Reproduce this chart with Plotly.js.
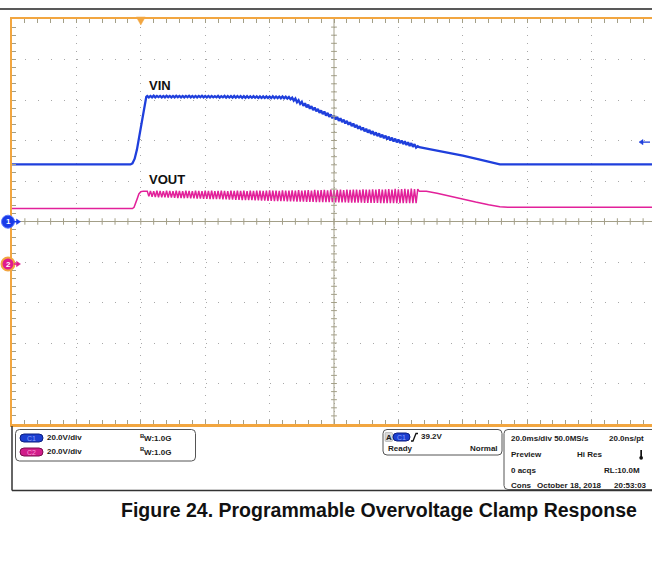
<!DOCTYPE html>
<html><head><meta charset="utf-8">
<script src="https://cdn.plot.ly/plotly-3.0.1.min.js"></script>
<style>html,body{margin:0;padding:0;background:#fff;overflow:hidden}#chart{width:652px;height:569px}</style>
</head><body><div id="chart"></div>
<script>
// ---------- DATA (time in ms, trigger at 0; volts) ----------
const vinTimePre = [-40, -3.2, -2.6, -1.9, -1.2, -0.4, 0.4, 1.2, 1.7];
const vinPre     = [28.2, 28.2, 28.7, 31.0, 35.5, 42.8, 50.1, 57.4, 61.6];
const voutTimePre = [-40, -2.6, -2.1, -1.6, -1.1, -0.6, 0.0, 0.8, 1.5];
const voutPre     = [27.4, 27.4, 28.0, 29.8, 32.3, 34.6, 35.7, 36.0, 35.9];

const rippleTime = [
 2,2.5,3,3.5,4,4.5,5,5.5,6,6.5, 7,7.5,8,8.5,9,9.5,10,10.5,11,11.5,
 12,12.5,13,13.5,14,14.5,15,15.5,16,16.5, 17,17.5,18,18.5,19,19.5,20,20.5,21,21.5,
 22,22.5,23,23.5,24,24.5,25,25.5,26,26.5, 27,27.5,28,28.5,29,29.5,30,30.5,31,31.5,
 32,32.5,33,33.5,34,34.5,35,35.5,36,36.5, 37,37.5,38,38.5,39,39.5,40,40.5,41,41.5,
 42,42.5,43,43.5,44,44.5,45,45.5,46,46.5, 47,47.5,48,48.5,49,49.5,50,50.5,51,51.5,
 52,52.5,53,53.5,54,54.5,55,55.5,56,56.5, 57,57.5,58,58.5,59,59.5,60,60.5,61,61.5,
 62,62.5,63,63.5,64,64.5,65,65.5,66,66.5, 67,67.5,68,68.5,69,69.5,70,70.5,71,71.5,
 72,72.5,73,73.5,74,74.5,75,75.5,76,76.5, 77,77.5,78,78.5,79,79.5,80,80.5,81,81.5,
 82,82.5,83,83.5,84,84.5,85,85.5,86];
const vinRipple = [
 62.0,61.3,62.0,61.3,62.1,61.3,62.0,61.4,62.0,61.3, 62.0,61.3,62.1,61.4,62.0,61.3,62.0,61.3,62.1,61.4,
 62.0,61.3,62.0,61.3,62.0,61.4,62.1,61.3,62.0,61.3, 62.0,61.3,62.0,61.4,62.1,61.3,62.0,61.3,62.0,61.3,
 62.0,61.3,61.9,61.3,62.0,61.2,61.9,61.3,62.0,61.2, 61.9,61.2,61.9,61.2,62.0,61.2,61.9,61.2,61.9,61.1,
 61.9,61.1,61.9,61.1,61.8,61.1,61.9,61.1,61.8,61.0, 61.8,61.0,61.8,61.0,61.8,61.0,61.7,60.9,61.8,60.9,
 61.7,60.9,61.7,60.8,61.7,60.8,61.6,60.7,61.5,60.4, 61.2,59.7,60.7,58.9,59.9,58.1,59.1,57.1,58.4,56.4,
 57.7,55.7,57.0,55.0,56.3,54.4,55.6,53.7,54.9,53.0, 54.3,52.3,53.6,51.7,52.9,51.0,52.3,50.4,51.6,49.7,
 51.0,49.1,50.3,48.4,49.7,47.8,49.0,47.1,48.4,46.5, 47.7,45.8,47.1,45.2,46.4,44.5,45.8,43.9,45.2,43.3,
 44.6,42.7,44.0,42.2,43.5,41.6,42.9,41.1,42.4,40.5, 41.9,40.0,41.4,39.5,40.9,39.1,40.5,38.7,40.0,38.2,
 39.6,37.8,39.1,37.3,38.7,36.9,38.2,36.5,37.2];
const voutRipple = [
 36.0,33.4,36.1,33.2,36.0,33.1,36.2,33.0,36.1,33.0, 36.0,32.9,36.2,32.8,36.1,32.8,36.0,32.7,36.2,32.6,
 36.1,32.6,36.0,32.5,36.2,32.5,36.1,32.4,36.0,32.4, 36.2,32.3,36.1,32.3,36.0,32.2,36.2,32.2,36.1,32.1,
 36.2,32.1,36.0,32.0,36.1,32.0,36.2,31.9,36.1,31.9, 36.0,31.8,36.2,31.8,36.1,31.7,36.3,31.7,36.1,31.6,
 36.2,31.6,36.0,31.5,36.3,31.5,36.1,31.4,36.2,31.4, 36.3,31.3,36.1,31.3,36.2,31.2,36.4,31.2,36.2,31.1,
 36.3,31.1,36.1,31.0,36.4,31.0,36.2,30.9,36.3,30.9, 36.4,30.9,36.2,30.8,36.5,30.8,36.3,30.8,36.4,30.7,
 36.5,30.7,36.3,30.7,36.6,30.6,36.4,30.6,36.5,30.6, 36.6,30.5,36.4,30.5,36.7,30.5,36.5,30.4,36.6,30.4,
 36.7,30.4,36.5,30.4,36.8,30.3,36.6,30.3,36.7,30.3, 36.8,30.3,36.6,30.3,36.9,30.2,36.7,30.2,36.8,30.2,
 36.9,30.2,36.7,30.2,37.0,30.1,36.8,30.1,36.9,30.1, 37.0,30.1,36.8,30.1,37.1,30.0,36.9,30.0,37.0,30.0,
 37.1,30.0,36.9,30.0,37.2,30.0,37.0,30.0,37.0];

const vinTimePost  = [86.5, 90, 95, 100, 105, 110, 111.5, 158.75];
const vinPost      = [36.7, 35.6, 34.2, 32.5, 30.7, 28.8, 28.2, 28.2];
const voutTimePost = [86.5, 88.7, 92, 96, 100, 104, 108, 111.5, 114, 158.75];
const voutPost     = [35.9, 35.9, 35.0, 33.5, 31.9, 30.6, 29.3, 28.3, 28.0, 28.0];

const traceLabels = ['VIN', 'VOUT'];
const triggerLevel = 39.2;      // V on CH1
const voltsPerDiv = 20;
const msPerDiv = 20;
const ch2GroundDiv = -1.05;     // CH2 ground offset in divisions

// ---------- GEOMETRY helpers (decoration only) ----------
const L = 12, T = 19, W = 640, H = 405;
const px = x => (x - L) / W;
const py = y => (T + H - y) / H;
const P = (x, y) => px(x) + ',' + py(y);
function rr(x0, y0, x1, y1, r) {
  return `M${P(x0 + r, y0)} L${P(x1 - r, y0)} Q${P(x1, y0)} ${P(x1, y0 + r)} L${P(x1, y1 - r)} Q${P(x1, y1)} ${P(x1 - r, y1)} L${P(x0 + r, y1)} Q${P(x0, y1)} ${P(x0, y1 - r)} L${P(x0, y0 + r)} Q${P(x0, y0)} ${P(x0 + r, y0)} Z`;
}
const FONT = 'Liberation Sans, Arial, sans-serif';
const BLUE = '#1f3fdc', MAG = '#e2219a', ORANGE = '#f2a640', TICK = '#a39f88';

const traces = [
  { x: [...vinTimePre, ...rippleTime, ...vinTimePost], y: [...vinPre, ...vinRipple, ...vinPost],
    name: traceLabels[0], mode: 'lines', line: { color: BLUE, width: 2.3 }, xaxis: 'x', yaxis: 'y' },
  { x: [...voutTimePre, ...rippleTime, ...voutTimePost], y: [...voutPre, ...voutRipple, ...voutPost],
    name: traceLabels[1], mode: 'lines', line: { color: MAG, width: 1.5 }, xaxis: 'x', yaxis: 'y2' }
];

const xr = [-2 * msPerDiv, -2 * msPerDiv + 640 / 64.4 * msPerDiv], yr = [-5 * voltsPerDiv, 5 * voltsPerDiv];
const y2r = [yr[0] - ch2GroundDiv * voltsPerDiv, yr[1] - ch2GroundDiv * voltsPerDiv];
const xCenter = 3 * msPerDiv;

const baseHidden = { showgrid: false, zeroline: false, showticklabels: false, fixedrange: true };

const shapes = [
  { type: 'line', xref: 'paper', yref: 'paper', x0: px(0), x1: px(652), y0: py(9), y1: py(9), line: { color: '#222', width: 1.5 } },
  { type: 'line', xref: 'x', yref: 'y', x0: xr[0], x1: xr[1], y0: 0, y1: 0, line: { color: TICK, width: 1 } },
  { type: 'line', xref: 'x', yref: 'y', x0: xCenter, x1: xCenter, y0: yr[0], y1: yr[1], line: { color: TICK, width: 1 } },
  { type: 'line', xref: 'paper', yref: 'paper', x0: px(12), x1: px(12), y0: py(426), y1: py(490.5), line: { color: '#333', width: 1.5 } },
  { type: 'line', xref: 'paper', yref: 'paper', x0: px(12), x1: px(652), y0: py(490.5), y1: py(490.5), line: { color: '#333', width: 1.5 } },
  { type: 'path', xref: 'paper', yref: 'paper', path: rr(15.5, 429.5, 195.5, 461, 4), line: { color: '#555', width: 1 } },
  { type: 'path', xref: 'paper', yref: 'paper', path: rr(383, 429.5, 502, 455, 4), line: { color: '#555', width: 1 } },
  { type: 'path', xref: 'paper', yref: 'paper', path: rr(504, 429.5, 664, 489.5, 4), line: { color: '#555', width: 1 } },
  { type: 'path', xref: 'paper', yref: 'paper', path: rr(20, 434, 43, 442, 4), fillcolor: '#1d3fd0', line: { color: '#0c1f80', width: 1 } },
  { type: 'path', xref: 'paper', yref: 'paper', path: rr(20, 448, 43, 456, 4), fillcolor: '#d01d8a', line: { color: '#7a0e4e', width: 1 } },
  { type: 'path', xref: 'paper', yref: 'paper', path: rr(385, 432.5, 392.5, 441.5, 1), fillcolor: '#d8d8d8', line: { color: '#999', width: 0.5 } },
  { type: 'path', xref: 'paper', yref: 'paper', path: rr(393, 433, 410, 441, 4), fillcolor: '#1d3fd0', line: { color: '#0c1f80', width: 1 } },
  { type: 'path', xref: 'paper', yref: 'paper', path: `M${P(411, 441)} L${P(413, 441)} L${P(416, 433.5)} L${P(418, 433.5)}`, line: { color: '#111', width: 1.3 } },
  { type: 'rect', xref: 'paper', yref: 'paper', x0: px(640.3), x1: px(642), y0: py(450), y1: py(457), fillcolor: '#111', line: { width: 0 } },
  { type: 'circle', xref: 'paper', yref: 'paper', x0: px(639.3), x1: px(643), y0: py(456), y1: py(459.7), fillcolor: '#111', line: { width: 0 } },
  { type: 'path', xref: 'x', yref: 'paper', path: `M -1.4,${py(17)} L 1.4,${py(17)} L 0,${py(25)} Z`, fillcolor: ORANGE, line: { color: ORANGE, width: 0.5 } },
  { type: 'circle', xref: 'paper', yref: 'paper', x0: px(1.5), x1: px(14.5), y0: py(215.2), y1: py(228.2), fillcolor: '#1a3be8', line: { color: '#5a78ff', width: 1 } },
  { type: 'line', xref: 'paper', yref: 'paper', x0: px(13), x1: px(17), y0: py(221.7), y1: py(221.7), line: { color: '#1a3be8', width: 1.5 } },
  { type: 'path', xref: 'paper', yref: 'paper', path: `M${P(16.5, 219)} L${P(20.5, 221.7)} L${P(16.5, 224.4)} Z`, fillcolor: '#1a3be8', line: { color: '#1a3be8', width: 0.5 } },
  { type: 'circle', xref: 'paper', yref: 'paper', x0: px(1.5), x1: px(14.5), y0: py(257.5), y1: py(270.5), fillcolor: '#e01b8d', line: { color: ORANGE, width: 2 } },
  { type: 'line', xref: 'paper', yref: 'paper', x0: px(14), x1: px(17), y0: py(264), y1: py(264), line: { color: '#e01b8d', width: 1.5 } },
  { type: 'path', xref: 'paper', yref: 'paper', path: `M${P(16.5, 261.3)} L${P(20.5, 264)} L${P(16.5, 266.7)} Z`, fillcolor: '#e01b8d', line: { color: '#e01b8d', width: 0.5 } },
  { type: 'path', xref: 'paper', yref: 'y', path: `M ${px(643)},${triggerLevel + 1.3} L ${px(639)},${triggerLevel} L ${px(643)},${triggerLevel - 1.3} Z`, fillcolor: BLUE, line: { color: BLUE, width: 0.5 } },
  { type: 'line', xref: 'paper', yref: 'y', x0: px(642), x1: px(650), y0: triggerLevel, y1: triggerLevel, line: { color: BLUE, width: 1.3 } }
];
for (let t = xr[0] + msPerDiv / 5; t < xr[1]; t += msPerDiv / 5) {
  shapes.push({ type: 'line', xref: 'x', yref: 'y', x0: t, x1: t, y0: -1.6, y1: 1.6, line: { color: TICK, width: 1 } });
}
for (let v = yr[0] + voltsPerDiv / 5; v < yr[1]; v += voltsPerDiv / 5) {
  shapes.push({ type: 'line', xref: 'x', yref: 'y', x0: xCenter - 0.9, x1: xCenter + 0.9, y0: v, y1: v, line: { color: TICK, width: 1 } });
}

function txt(x, y, text, size, anchor, color, extra) {
  return Object.assign({ xref: 'paper', yref: 'paper', x: px(x), y: py(y), text: text, showarrow: false,
    xanchor: anchor || 'left', yanchor: 'middle', font: { family: FONT, size: size, color: color || '#1a1a1a' } }, extra || {});
}
const annotations = [
  txt(147, 86, '<b>' + traceLabels[0] + '</b>', 13, 'left', '#111'),
  txt(147, 180, '<b>' + traceLabels[1] + '</b>', 13, 'left', '#111'),
  txt(8, 221.7, '<b>1</b>', 8, 'center', '#fff'),
  txt(8, 264, '<b>2</b>', 8, 'center', '#fff'),
  txt(31.5, 438, 'C1', 7, 'center', '#8aa4ff'),
  txt(31.5, 452, 'C2', 7, 'center', '#ff9ad9'),
  txt(401.5, 437, 'C1', 7, 'center', '#8aa4ff'),
  txt(45, 437.5, '<b>20.0V/div</b>', 8, 'left'),
  txt(45, 451.5, '<b>20.0V/div</b>', 8, 'left'),
  txt(138, 435.5, '<b>B</b>', 6, 'left'),
  txt(141.5, 438.5, '<b>W:1.0G</b>', 8, 'left'),
  txt(138, 449.5, '<b>B</b>', 6, 'left'),
  txt(141.5, 452.5, '<b>W:1.0G</b>', 8, 'left'),
  txt(388.8, 437, '<b>A</b>', 8, 'center'),
  txt(419, 436.5, '<b>39.2V</b>', 8, 'left'),
  txt(386, 448.5, '<b>Ready</b>', 8, 'left'),
  txt(500, 448.5, '<b>Normal</b>', 8, 'right'),
  txt(509, 438.5, '<b>20.0ms/div 50.0MS/s</b>', 8, 'left'),
  txt(646, 438.5, '<b>20.0ns/pt</b>', 8, 'right'),
  txt(509, 454.5, '<b>Preview</b>', 8, 'left'),
  txt(575, 454.5, '<b>Hi Res</b>', 8, 'left'),
  txt(509, 470, '<b>0 acqs</b>', 8, 'left'),
  txt(642, 470, '<b>RL:10.0M</b>', 8, 'right'),
  txt(509, 485.5, '<b>Cons</b>', 8, 'left'),
  txt(535, 485.5, '<b>October 18, 2018</b>', 8, 'left'),
  txt(649, 485.5, '<b>20:53:03</b>', 8, 'right'),
  txt(379, 510, '<b>Figure 24. Programmable Overvoltage Clamp Response</b>', 19.5, 'center', '#111')
];

const layout = {
  width: 652, height: 569, margin: { l: L, r: 652 - L - W, t: T, b: 569 - T - H, pad: 0 },
  paper_bgcolor: '#fff', plot_bgcolor: '#fff', showlegend: false,
  xaxis: Object.assign({}, baseHidden, { range: xr, showgrid: true, dtick: msPerDiv, tick0: xr[0], gridcolor: '#a8a8a8',
    griddash: '1px,7px', gridwidth: 1, ticks: 'inside', ticklen: 4, tickcolor: TICK, tickwidth: 1,
    minor: { dtick: msPerDiv / 5, tick0: xr[0], ticks: 'inside', ticklen: 4, tickcolor: TICK, tickwidth: 1, showgrid: false },
    showline: true, linecolor: ORANGE, linewidth: 2.5, mirror: 'ticks' }),
  yaxis: Object.assign({}, baseHidden, { range: yr, showgrid: true, dtick: voltsPerDiv, tick0: yr[0], gridcolor: '#a8a8a8',
    griddash: '1px,11.9px', gridwidth: 1, ticks: 'inside', ticklen: 4, tickcolor: TICK, tickwidth: 1,
    minor: { dtick: voltsPerDiv / 5, tick0: yr[0], ticks: 'inside', ticklen: 4, tickcolor: TICK, tickwidth: 1, showgrid: false },
    showline: true, linecolor: ORANGE, linewidth: 2.5, mirror: false }),
  yaxis2: Object.assign({}, baseHidden, { overlaying: 'y', range: y2r, showline: false, ticks: '' }),
  shapes: shapes,
  annotations: annotations
};

Plotly.newPlot('chart', traces, layout, { displayModeBar: false, staticPlot: true });
</script>
</body></html>
